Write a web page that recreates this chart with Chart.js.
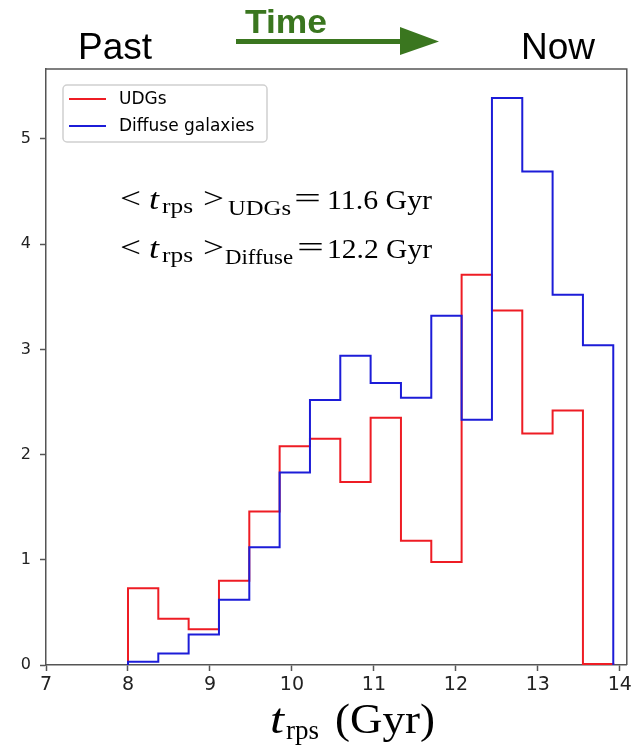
<!DOCTYPE html>
<html lang="en">
<head>
<meta charset="UTF-8" />
<script src="https://cdn.jsdelivr.net/npm/chart.js"></script>
<title>t_rps histogram</title>
<style>
  body { margin: 0; background: #fff; }
</style>
</head>
<body>
<canvas id="histChart" width="635" height="745"></canvas>
<script>
// bin edges (Gyr) and normalised counts per bin
const binEdges = [8.00, 8.37, 8.74, 9.11, 9.48, 9.85, 10.22, 10.59, 10.96, 11.33, 11.70, 12.07, 12.44, 12.81, 13.18, 13.55, 13.92];
const udgValues = [0.73, 0.44, 0.34, 0.80, 1.46, 2.08, 2.15, 1.74, 2.35, 1.18, 0.98, 3.71, 3.37, 2.20, 2.42, 0.01];
const diffuseValues = [0.03, 0.11, 0.29, 0.62, 1.12, 1.83, 2.52, 2.94, 2.68, 2.54, 3.32, 2.33, 5.39, 4.69, 3.52, 3.04];
const xTicks = [7, 8, 9, 10, 11, 12, 13, 14];
const yTicks = [0, 1, 2, 3, 4, 5];

// outline of a step histogram, like matplotlib histtype="step"
function stepPoints(edges, values) {
  const pts = [{ x: edges[0], y: 0 }];
  values.forEach((v, i) => pts.push({ x: edges[i], y: v }));
  pts.push({ x: edges[edges.length - 1], y: 0 });
  return pts;
}

const axisColor = "#555";
const serif = "'Liberation Serif', 'Times New Roman', serif";

// draw text squeezed/stretched to a given width (mimics the wider TeX fonts)
function fitText(ctx, text, x, y, font, w) {
  ctx.font = font;
  const m = ctx.measureText(text).width;
  ctx.save();
  ctx.translate(x, y);
  ctx.scale(w / m, 1);
  ctx.fillText(text, 0, 0);
  ctx.restore();
}

const decorations = {
  id: "decorations",
  afterDraw(chart) {
    const ctx = chart.ctx;
    const a = chart.chartArea;
    ctx.save();

    // top and right spines
    ctx.strokeStyle = axisColor;
    ctx.lineWidth = 1.5;
    ctx.beginPath();
    ctx.moveTo(a.left, a.top);
    ctx.lineTo(a.right, a.top);
    ctx.lineTo(a.right, a.bottom);
    ctx.stroke();

    // header: Past --Time--> Now
    ctx.fillStyle = "#000";
    ctx.textBaseline = "alphabetic";
    ctx.textAlign = "left";
    ctx.font = "37px 'Liberation Sans', Arial, sans-serif";
    ctx.fillText("Past", 78, 59);
    ctx.fillText("Now", 521, 59);

    ctx.fillStyle = "#3a761f";
    fitText(ctx, "Time", 245, 33, "bold 34px 'Liberation Sans', Arial, sans-serif", 82);
    ctx.fillRect(236, 39, 166, 5);
    ctx.beginPath();
    ctx.moveTo(400, 27);
    ctx.lineTo(439, 41.5);
    ctx.lineTo(400, 55);
    ctx.closePath();
    ctx.fill();

    // legend
    const lx = 63, ly = 85, lw = 204, lh = 57;
    ctx.fillStyle = "rgba(255,255,255,0.8)";
    ctx.strokeStyle = "#d0d0d0";
    ctx.lineWidth = 1.5;
    ctx.beginPath();
    ctx.roundRect(lx, ly, lw, lh, 4);
    ctx.fill();
    ctx.stroke();
    const legendItems = [["UDGs", "#ee1c24", 99], ["Diffuse galaxies", "#1c1cd8", 126]];
    ctx.font = "17px 'DejaVu Sans', sans-serif";
    ctx.textBaseline = "middle";
    legendItems.forEach(([label, color, y]) => {
      ctx.strokeStyle = color;
      ctx.lineWidth = 2;
      ctx.beginPath();
      ctx.moveTo(69, y);
      ctx.lineTo(106, y);
      ctx.stroke();
      ctx.fillStyle = "#000";
      ctx.fillText(label, 119, y + 1);
    });

    // mean annotations
    ctx.fillStyle = "#000";
    ctx.textBaseline = "alphabetic";
    const lines = [
      { y: 209, name: "UDGs", nameX: 228, nameW: 63, eqX: 294, val: "11.6 Gyr" },
      { y: 258, name: "Diffuse", nameX: 225, nameW: 68, eqX: 297, val: "12.2 Gyr" }
    ];
    lines.forEach(l => {
      fitText(ctx, "<", 120, l.y - 1, "30px " + serif, 21);
      fitText(ctx, "t", 149, l.y, "italic 30px " + serif, 10);
      fitText(ctx, "rps", 162, l.y + 4, "21px " + serif, 31);
      fitText(ctx, ">", 203, l.y - 1, "30px " + serif, 21);
      fitText(ctx, l.name, l.nameX, l.y + 6, "22px " + serif, l.nameW);
      fitText(ctx, "=", l.eqX, l.y - 1, "30px " + serif, 27);
      fitText(ctx, l.val, 327, l.y, "28px " + serif, 105);
    });

    // x axis title
    fitText(ctx, "t", 270, 733, "italic 42px " + serif, 14);
    fitText(ctx, "rps", 286, 739, "28px " + serif, 33);
    fitText(ctx, "(Gyr)", 335, 733, "42px " + serif, 100);

    ctx.restore();
  }
};

new Chart(document.getElementById("histChart"), {
  type: "line",
  data: {
    datasets: [
      {
        label: "UDGs",
        data: stepPoints(binEdges, udgValues),
        borderColor: "#ee1c24",
        borderWidth: 2,
        stepped: true,
        pointRadius: 0,
        fill: false,
        order: 2
      },
      {
        label: "Diffuse galaxies",
        data: stepPoints(binEdges, diffuseValues),
        borderColor: "#1c1cd8",
        borderWidth: 2,
        stepped: true,
        pointRadius: 0,
        fill: false,
        order: 1
      }
    ]
  },
  options: {
    responsive: false,
    animation: false,
    parsing: false,
    layout: { padding: { left: 0, top: 69, right: 7, bottom: 0 } },
    plugins: { legend: { display: false }, tooltip: { enabled: false } },
    scales: {
      x: {
        type: "linear",
        min: 7,
        max: 14.085,
        afterBuildTicks: s => { s.ticks = xTicks.map(v => ({ value: v })); },
        afterFit: s => { s.height = 80; },
        grid: { drawOnChartArea: false, drawTicks: true, tickLength: 6, tickColor: axisColor, tickWidth: 1.5 },
        border: { display: true, color: axisColor, width: 1.5 },
        ticks: { color: "#222", padding: 3, font: { family: "'DejaVu Sans', sans-serif", size: 19 } }
      },
      y: {
        type: "linear",
        min: 0,
        max: 5.665,
        afterBuildTicks: s => { s.ticks = yTicks.map(v => ({ value: v })); },
        afterFit: s => { s.width = 46; },
        grid: { drawOnChartArea: false, drawTicks: true, tickLength: 6, tickColor: axisColor, tickWidth: 1.5 },
        border: { display: true, color: axisColor, width: 1.5 },
        ticks: { color: "#222", padding: 9, font: { family: "'DejaVu Sans', sans-serif", size: 16 } }
      }
    }
  },
  plugins: [decorations]
});
</script>
</body>
</html>
